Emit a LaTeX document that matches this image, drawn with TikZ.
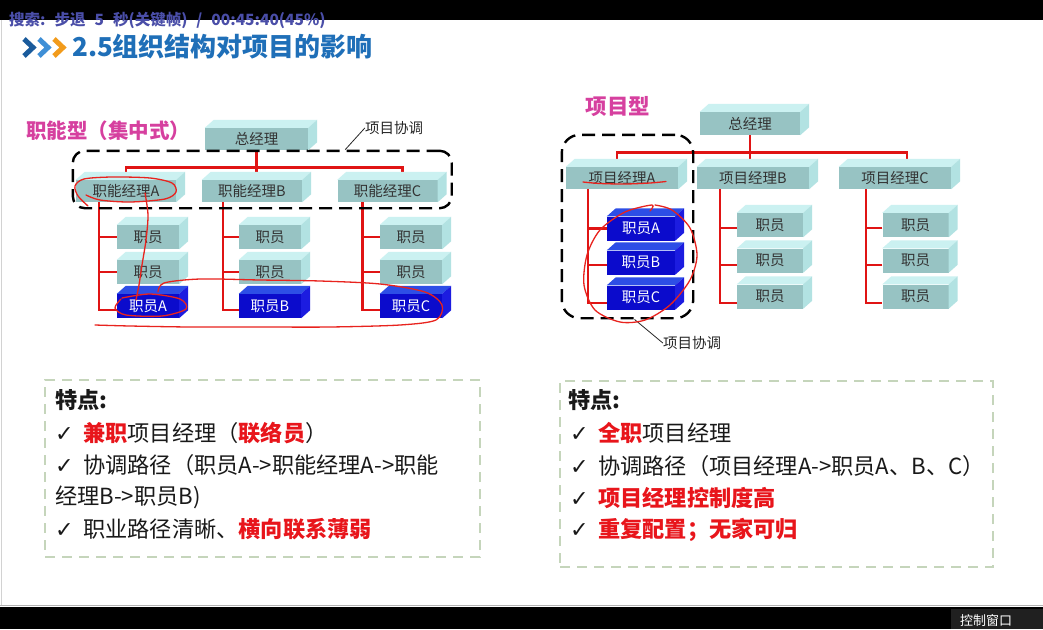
\documentclass[tikz,border=0pt]{standalone}
\usepackage{fontspec}
\setmainfont{Noto Sans CJK SC}
\newfontfamily\ckfont{DejaVu Sans}
\usetikzlibrary{positioning,calc,fit,backgrounds}

\definecolor{frontgrey}{HTML}{97C3C3}
\definecolor{topgrey}{HTML}{CBF1F1}
\definecolor{sidegrey}{HTML}{B2E2E2}
\definecolor{frontblue}{HTML}{0B0BCC}
\definecolor{topblue}{HTML}{2D4EE6}
\definecolor{sideblue}{HTML}{1C1CE0}
\definecolor{boxtext}{HTML}{333333}
\definecolor{orgred}{HTML}{E01414}
\definecolor{inkred}{HTML}{E8231E}
\definecolor{keyred}{HTML}{E8151B}
\definecolor{kindpink}{HTML}{D6409F}
\definecolor{titleblue}{HTML}{1F6FB8}
\definecolor{chevdark}{HTML}{1A5B9C}
\definecolor{chevmid}{HTML}{3F8FD6}
\definecolor{chevorange}{HTML}{F29B1B}
\definecolor{notegreen}{HTML}{C5D5BB}
\definecolor{overlayblue}{HTML}{4A4EA8}
\definecolor{panelgrey}{HTML}{202020}

% top and right faces of a box node
\newcommand{\cubefaces}[3]{%
  \fill[#2] (#1.north west) -- ([xshift=9pt,yshift=8pt]#1.north west)
    -- ([xshift=9pt,yshift=8pt]#1.north east) -- (#1.north east) -- cycle;
  \fill[#3] (#1.north east) -- ([xshift=9pt,yshift=8pt]#1.north east)
    -- ([xshift=9pt,yshift=8pt]#1.south east) -- (#1.south east) -- cycle;
}
\newcommand{\ck}{\makebox[28pt][l]{\ckfont\bfseries ✓}}

\begin{document}
\begin{tikzpicture}[x=1pt, y=-1pt]

\tikzset{
  unit/.style={rectangle, inner sep=0pt, font=\fontsize{14.5}{16}\selectfont, text=boxtext},
  greybox/.style={unit, fill=frontgrey},
  bluebox/.style={unit, fill=frontblue, text=white},
  orgline/.style={draw=orgred, line width=2.6pt},
  groupframe/.style={draw=black, line width=2.4pt, dash pattern=on 13pt off 7pt, inner sep=0pt},
  noteframe/.style={draw=notegreen, line width=2pt, dash pattern=on 10pt off 7pt},
  leader/.style={draw=black!85, line width=0.8pt},
  scribble/.style={draw=inkred, line width=1.3pt, line cap=round, line join=round},
  pointtext/.style={anchor=west, inner sep=0pt, font=\fontsize{22.2}{24}\selectfont, text=black!90},
  kind/.style={inner sep=0pt, font=\fontsize{20.5}{22}\bfseries\selectfont, text=kindpink}
}

\useasboundingbox (0,0) rectangle (1043,629);

% ==========================
% Screen frame
% ==========================
\begin{scope}[on background layer]
  \fill[white] (0,0) rectangle (1043,629);
  \fill[black] (0,0) rectangle (1043,20);
  \fill[black] (0,607) rectangle (1043,629);
  \draw[gray!60, line width=1pt] (0,605.5) -- (1043,605.5);
  \draw[gray!35, line width=1.5pt] (1.5,20) -- (1.5,605);
  \fill[panelgrey] (951,609) rectangle (1043,629);
\end{scope}

\node[anchor=west, inner sep=0pt, font=\fontsize{15.5}{16}\bfseries\selectfont, text=overlayblue] (seek) at (9,20)
{搜索:\hspace{9pt}步退\hspace{9pt}5\hspace{9pt}秒(关键帧)\hspace{9pt}/\hspace{9pt}00:45:40(45\%)};
\node[inner sep=0pt, font=\fontsize{13}{14}\selectfont, text=white] (panel) at (986,620.5) {控制窗口};

% ==========================
% Title
% ==========================
\draw[chevdark, line width=5pt] (24,39) -- (33,47.5) -- (24,56);
\draw[chevmid, line width=5pt] (39,39) -- (48,47.5) -- (39,56);
\draw[chevorange, line width=5pt] (54,39) -- (63,47.5) -- (54,56);
\node[anchor=west, inner sep=0pt, font=\fontsize{26}{28}\bfseries\selectfont, text=titleblue] (title) at (72,47)
{2.5组织结构对项目的影响};

% ==========================
% Left chart: functional
% ==========================
\node[kind] (lkind) at (108,131) {职能型（集中式）};

\node[greybox, minimum width=103pt, minimum height=22pt] (lgm) at (256.5,139) {总经理};
\node[greybox, minimum width=100pt, minimum height=22pt] (lmA) at (126,191) {职能经理A};
\node[greybox, minimum width=100pt, minimum height=22pt] (lmB) at (252,191) {职能经理B};
\node[greybox, minimum width=100pt, minimum height=22pt] (lmC) at (387.5,191) {职能经理C};

\node[greybox, minimum width=62pt, minimum height=24pt] (lsA1) at (148,237) {职员};
\node[greybox, minimum width=62pt, minimum height=24pt] (lsA2) at (148,272) {职员};
\node[bluebox, minimum width=62pt, minimum height=24pt] (lsA3) at (148,306) {职员A};
\node[greybox, minimum width=62pt, minimum height=24pt] (lsB1) at (270,237) {职员};
\node[greybox, minimum width=62pt, minimum height=24pt] (lsB2) at (270,272) {职员};
\node[bluebox, minimum width=62pt, minimum height=24pt] (lsB3) at (270,306) {职员B};
\node[greybox, minimum width=62pt, minimum height=24pt] (lsC1) at (411,237) {职员};
\node[greybox, minimum width=62pt, minimum height=24pt] (lsC2) at (411,272) {职员};
\node[bluebox, minimum width=62pt, minimum height=24pt] (lsC3) at (411,306) {职员C};

\coordinate (lbus) at ($(lgm.south)+(0,17)$);
\coordinate (lvA) at ($(lmA.south west)+(23,0)$);
\coordinate (lvB) at ($(lmB.south west)+(21,0)$);
\coordinate (lvC) at ($(lmC.south west)+(25,0)$);

\begin{scope}[on background layer]
  \draw[orgline] (lgm.south) -- (lgm.south |- lmB.north);
  \draw[orgline] (lmA.north) |- (lbus) -| ([xshift=15pt]lmC.north);
  \draw[orgline] (lvA) |- ([yshift=-4pt]lsA3.west);
  \draw[orgline] (lsA1.west) -| (lvA);
  \draw[orgline] (lsA2.west) -| (lvA);
  \draw[orgline] (lvB) |- ([yshift=-4pt]lsB3.west);
  \draw[orgline] (lsB1.west) -| (lvB);
  \draw[orgline] (lsB2.west) -| (lvB);
  \draw[orgline] (lvC) |- ([yshift=-4pt]lsC3.west);
  \draw[orgline] (lsC1.west) -| (lvC);
  \draw[orgline] (lsC2.west) -| (lvC);
\end{scope}

\coordinate (lf1) at ($(lmA.south west)+(-3,6)$);
\coordinate (lf2) at ($(lmC.north east)+(14,-29)$);
\node[groupframe, rounded corners=12pt, fit=(lf1)(lf2)] (lframe) {};
\node[inner sep=0pt, font=\fontsize{14.5}{16}\selectfont, text=black!85] (llabel) at (394,128) {项目协调};
\draw[leader] ([xshift=83pt]lframe.north) -- (llabel.west);

% ==========================
% Right chart: projectized
% ==========================
\node[kind, font=\fontsize{21.5}{24}\bfseries\selectfont] (rkind) at (618,107) {项目型};

\node[greybox, minimum width=100pt, minimum height=23pt] (rgm) at (750,123.5) {总经理};
\node[greybox, minimum width=112pt, minimum height=22pt] (rmA) at (622,178) {项目经理A};
\node[greybox, minimum width=112pt, minimum height=22pt] (rmB) at (753,178) {项目经理B};
\node[greybox, minimum width=112pt, minimum height=22pt] (rmC) at (895,178) {项目经理C};

\node[bluebox, minimum width=68pt, minimum height=24pt] (rsA1) at (641,228.5) {职员A};
\node[bluebox, minimum width=68pt, minimum height=24pt] (rsA2) at (641,262.5) {职员B};
\node[bluebox, minimum width=68pt, minimum height=24pt] (rsA3) at (641,297.5) {职员C};
\node[greybox, minimum width=66pt, minimum height=24pt] (rsB1) at (770,225) {职员};
\node[greybox, minimum width=66pt, minimum height=24pt] (rsB2) at (770,260.5) {职员};
\node[greybox, minimum width=66pt, minimum height=24pt] (rsB3) at (770,296.5) {职员};
\node[greybox, minimum width=66pt, minimum height=24pt] (rsC1) at (915.5,225) {职员};
\node[greybox, minimum width=66pt, minimum height=24pt] (rsC2) at (915.5,260.5) {职员};
\node[greybox, minimum width=66pt, minimum height=24pt] (rsC3) at (915.5,296.5) {职员};

\coordinate (rbus) at ($(rgm.south)+(0,17.5)$);
\coordinate (rvA) at ($(rmA.south west)+(22,0)$);
\coordinate (rvB) at ($(rmB.south west)+(23,0)$);
\coordinate (rvC) at ($(rmC.south west)+(27,0)$);

\begin{scope}[on background layer]
  \draw[orgline] (rgm.south) -- (rgm.south |- rmB.north);
  \draw[orgline] ([xshift=-5pt]rmA.north) |- (rbus) -| ([xshift=12pt]rmC.north);
  \draw[orgline] (rvA) |- ([yshift=-5.5pt]rsA3.west);
  \draw[orgline] (rsA1.west) -| (rvA);
  \draw[orgline] ([yshift=-2.5pt]rsA2.west) -| (rvA);
  \draw[orgline] (rvB) |- ([yshift=-6.5pt]rsB3.west);
  \draw[orgline] ([yshift=-3pt]rsB1.west) -| (rvB);
  \draw[orgline] ([yshift=-4.5pt]rsB2.west) -| (rvB);
  \draw[orgline] (rvC) |- ([yshift=-6.5pt]rsC3.west);
  \draw[orgline] ([yshift=-3pt]rsC1.west) -| (rvC);
  \draw[orgline] ([yshift=-4.5pt]rsC2.west) -| (rvC);
\end{scope}

\foreach \n in {lgm,lmA,lmB,lmC,lsA1,lsA2,lsB1,lsB2,lsC1,lsC2,rgm,rmA,rmB,rmC,rsB1,rsB2,rsB3,rsC1,rsC2,rsC3}
  {\cubefaces{\n}{topgrey}{sidegrey}}
\foreach \n in {lsA3,lsB3,lsC3,rsA1,rsA2,rsA3}
  {\cubefaces{\n}{topblue}{sideblue}}

\coordinate (rf1) at ($(rmA.north west)+(-4,-32)$);
\coordinate (rf2) at ($(rsA3.south east)+(18,8.5)$);
\node[groupframe, rounded corners=18pt, fit=(rf1)(rf2)] (rframe) {};
\node[inner sep=0pt, font=\fontsize{14.5}{16}\selectfont, text=black!85] (rlabel) at (692,343) {项目协调};
\draw[leader] ([xshift=7pt]rframe.south) -- (rlabel.west);

% ==========================
% Notes
% ==========================
\node[noteframe, minimum width=435pt, minimum height=177pt] (lnote) at (262.5,468.5) {};
\node[pointtext, font=\fontsize{22.2}{24}\bfseries\selectfont] (lt0) at (55,400) {特点:};
\node[pointtext] (lt1) at (55,433) {\ck{\color{keyred}\bfseries 兼职}项目经理（{\color{keyred}\bfseries 联络员}）};
\node[pointtext] (lt2) at (55,465) {\ck 协调路径（职员A->职能经理A->职能};
\node[pointtext] (lt3) at (55,497) {经理B->职员B)};
\node[pointtext] (lt4) at (55,529) {\ck 职业路径清晰、{\color{keyred}\bfseries 横向联系薄弱}};

\node[noteframe, minimum width=433pt, minimum height=186pt] (rnote) at (776.5,474) {};
\node[pointtext, font=\fontsize{22.2}{24}\bfseries\selectfont] (rt0) at (568,400) {特点:};
\node[pointtext] (rt1) at (570,433) {\ck{\color{keyred}\bfseries 全职}项目经理};
\node[pointtext] (rt2) at (570,466) {\ck 协调路径（项目经理A->职员A、B、C）};
\node[pointtext] (rt3) at (570,498) {\ck{\color{keyred}\bfseries 项目经理控制度高}};
\node[pointtext] (rt4) at (570,530) {\ck{\color{keyred}\bfseries 重复配置；无家可归}};

% ==========================
% Hand marks
% ==========================
\draw[scribble] plot[smooth] coordinates {(88,206) (78,196) (75,186) (84,179) (112,177) (150,178) (172,183) (176,192) (165,199) (130,202) (100,200) (86,195)};
\draw[scribble] plot[smooth] coordinates {(145,193) (148,215) (146,240) (142,265) (139,285) (136,300)};
\draw[scribble] plot[smooth] coordinates {(122,298) (150,294) (180,299) (186,309) (162,316) (126,315) (115,308) (121,299)};
\draw[scribble] plot[smooth] coordinates {(158,292) (164,283) (200,279) (260,280) (320,281) (380,284) (425,292) (442,305) (436,320) (400,325) (330,327) (260,327) (190,327) (130,326) (95,325)};
\draw[scribble] plot[smooth] coordinates {(583,182) (600,183.5) (625,184) (650,183) (666,181.5)};
\draw[scribble] plot[smooth] coordinates {(650,211) (652,205) (625,212) (600,230) (587,255) (584,285) (595,310) (620,322) (645,320) (670,305) (690,280) (697,255) (690,228) (672,210) (655,205)};

\end{tikzpicture}
\end{document}
